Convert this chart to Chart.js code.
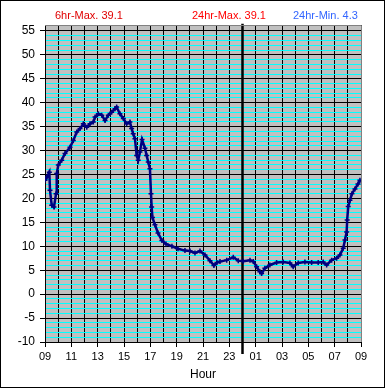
<!DOCTYPE html>
<html>
<head>
<meta charset="utf-8">
<script src="https://cdn.jsdelivr.net/npm/chart.js@4.4.1/dist/chart.umd.min.js"></script>
<style>
    body { margin: 0; background: #fff; }
    #wrap { width: 385px; height: 388px; border: 1px solid #000; box-sizing: border-box; }
    canvas { display: block; }
</style>
</head>
<body>
<div id="wrap"><canvas id="tempChart" width="383" height="386"></canvas></div>
<script>
// hours since 09:00, and the temperature read at that time
const hours = [0.00, 0.15, 0.33, 0.38, 0.51, 0.68, 0.84, 0.89, 1.01, 1.27, 1.52, 1.90, 2.15, 2.41, 2.66, 2.91,
    3.17, 3.42, 3.67, 3.80, 4.05, 4.31, 4.56, 4.81, 5.06, 5.32, 5.44, 5.69, 5.95, 6.20, 6.45, 6.58, 6.70,
    6.83, 6.96, 7.08, 7.21, 7.37, 7.59, 7.72, 7.84, 7.97, 8.05, 8.10, 8.16, 8.35, 8.58, 8.88, 9.19, 9.64,
    10.10, 10.63, 11.01, 11.39, 11.77, 12.15, 12.53, 12.83, 13.06, 13.29, 13.80, 14.30, 14.68, 15.06,
    15.57, 15.82, 16.07, 16.32, 16.45, 16.70, 17.08, 17.59, 18.09, 18.60, 18.85, 19.23, 19.74, 20.25,
    20.75, 21.13, 21.39, 21.77, 22.15, 22.40, 22.65, 22.78, 22.91, 22.95, 23.03, 23.16, 23.31, 23.54,
    23.77, 23.92];
const temps = [23.8, 24.5, 25.5, 21.7, 18.6, 18.2, 21.0, 25.2, 27.0, 28.0, 29.4, 30.7, 32.1, 33.9, 34.6, 35.6,
    34.9, 35.6, 36.0, 37.0, 37.7, 37.4, 36.3, 37.4, 38.0, 38.75, 39.1, 37.7, 36.7, 35.6, 36.0, 34.6, 33.5,
    32.5, 29.0, 28.0, 29.7, 32.3, 30.5, 29.0, 27.6, 26.2, 21.0, 18.2, 16.0, 14.5, 12.8, 11.2, 10.5, 10.0,
    9.5, 9.1, 9.0, 8.6, 9.0, 8.2, 7.0, 6.0, 6.6, 6.8, 7.1, 7.7, 7.0, 6.9,
    7.1, 6.8, 5.75, 4.7, 4.3, 5.4, 6.1, 6.6, 6.7, 6.5, 5.75, 6.5, 6.7, 6.6,
    6.6, 6.7, 6.1, 7.1, 7.5, 8.2, 9.6, 11.3, 13.0, 15.5, 18.3, 19.6, 21.0, 22.0,
    23.0, 23.8];

// midnight marker
const midnightHours = [15, 15];
const midnightTemps = [-12.5, 56.5];

const startHour = 9;
const yTickValues = [];
for (let v = -10; v <= 55; v++) yTickValues.push(v);

const headTexts = ["6hr-Max. 39.1", "24hr-Max. 39.1", "24hr-Min. 4.3"];
const headColors = ["#e00000", "#ff0000", "#3366ff"];
const headX = [54, 191, 292];

const plotBack = {
    id: "plotBack",
    beforeDraw(chart) {
        const a = chart.chartArea, ctx = chart.ctx;
        ctx.save();
        ctx.fillStyle = "#c0c0c0";
        ctx.fillRect(a.left, a.top, a.width, a.height);
        ctx.restore();
    },
    afterDatasetsDraw(chart) {
        const a = chart.chartArea, ctx = chart.ctx;
        ctx.save();
        ctx.strokeStyle = "#808080";
        ctx.lineWidth = 1;
        ctx.beginPath();
        ctx.moveTo(a.left, a.top + 0.5);
        ctx.lineTo(a.right + 0.5, a.top + 0.5);
        ctx.lineTo(a.right + 0.5, a.bottom);
        ctx.stroke();
        ctx.restore();
    },
    afterDraw(chart) {
        const ctx = chart.ctx;
        ctx.save();
        ctx.font = "11px 'Liberation Sans', Arial, sans-serif";
        ctx.textBaseline = "middle";
        ctx.textAlign = "left";
        headTexts.forEach((t, i) => {
            ctx.fillStyle = headColors[i];
            ctx.fillText(t, headX[i], 14.5);
        });
        ctx.restore();
    }
};

const ctx = document.getElementById("tempChart").getContext("2d");
new Chart(ctx, {
    type: "line",
    data: {
        datasets: [{
            data: hours.map((h, i) => ({ x: h, y: temps[i] })),
            borderColor: "#000080",
            borderWidth: 2.5,
            pointStyle: "cross",
            pointRadius: 2.5,
            pointBorderWidth: 1.5,
            pointBorderColor: "#000080",
            tension: 0
        }, {
            data: midnightHours.map((h, i) => ({ x: h, y: midnightTemps[i] })),
            borderColor: "#000",
            borderWidth: 2.5,
            pointRadius: 0,
            clip: false
        }]
    },
    plugins: [plotBack],
    options: {
        responsive: false,
        animation: false,
        layout: { padding: { top: 24, right: 23, left: 0, bottom: 0 } },
        plugins: { legend: { display: false }, tooltip: { enabled: false } },
        scales: {
            x: {
                type: "linear",
                min: 0,
                max: 24,
                afterFit: s => { s.height = 45; },
                afterBuildTicks: s => {
                    s.ticks = [];
                    for (let h = 0; h <= 24; h++) s.ticks.push({ value: h });
                },
                ticks: {
                    autoSkip: false,
                    maxRotation: 0,
                    padding: 3,
                    color: "#000",
                    font: { family: "'Liberation Sans', Arial, sans-serif", size: 11 },
                    callback: v => v % 2 === 0 ? String((v + startHour) % 24).padStart(2, "0") : ""
                },
                grid: {
                    color: "#000",
                    lineWidth: 1,
                    tickLength: 5,
                    tickColor: c => (c.tick && c.tick.value % 2 === 0) ? "#000" : "rgba(0,0,0,0)"
                },
                border: { color: "#000", width: 1 },
                title: {
                    display: true,
                    text: "Hour",
                    color: "#000",
                    font: { family: "'Liberation Sans', Arial, sans-serif", size: 12 },
                    padding: { top: 0, bottom: 5 }
                }
            },
            y: {
                min: -10,
                max: 56.25,
                afterFit: s => { s.width = 44; },
                afterBuildTicks: s => { s.ticks = yTickValues.map(v => ({ value: v })); },
                ticks: {
                    autoSkip: false,
                    padding: 5,
                    color: "#000",
                    font: { family: "'Liberation Sans', Arial, sans-serif", size: 12 },
                    callback: v => v % 5 === 0 ? String(v) : ""
                },
                grid: {
                    color: c => (c.tick && c.tick.value % 5 === 0) ? "#000" : "#00ffff",
                    lineWidth: 1,
                    tickLength: 5,
                    tickColor: c => (c.tick && c.tick.value % 5 === 0) ? "#000" : "rgba(0,0,0,0)"
                },
                border: { color: "#000", width: 1 }
            }
        }
    }
});
</script>
</body>
</html>
